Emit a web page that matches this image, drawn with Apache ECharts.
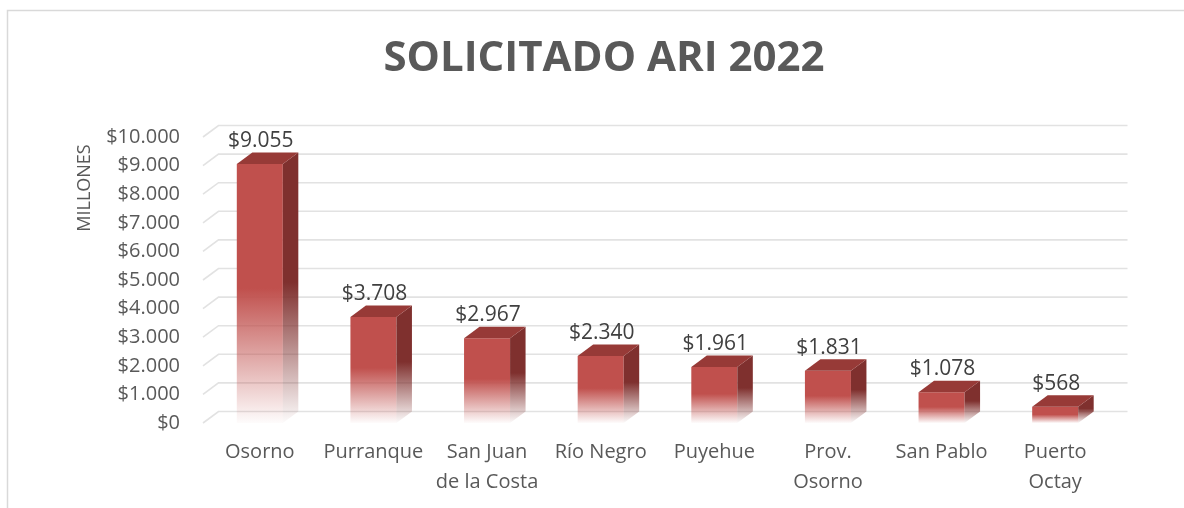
<!DOCTYPE html>
<html>
<head>
<meta charset="utf-8">
<script src="https://cdn.jsdelivr.net/npm/echarts@6/dist/echarts.min.js"></script>
<style>
	html, body { margin: 0; padding: 0; background: #fff; }
	#chart { width: 1184px; height: 508px; }
</style>
</head>
<body>
<div id="chart"></div>
<script>
// datos del gráfico
var comunas = ['Osorno', 'Purranque', 'San Juan\nde la Costa', 'Río Negro', 'Puyehue', 'Prov.\nOsorno', 'San Pablo', 'Puerto\nOctay'];
var solicitado = [9055, 3708, 2967, 2340, 1961, 1831, 1078, 568];
var yTicks = [0, 1000, 2000, 3000, 4000, 5000, 6000, 7000, 8000, 9000, 10000];

var FONT = '"Open Sans", "DejaVu Sans", sans-serif';
var DX = 15.5, DY = -11.5;   // profundidad 3d

function miles(v)
{
	return '$' + String(v).replace(/\B(?=(\d{3})+(?!\d))/g, '.');
}

function fade(color, rgb)
{
	return new echarts.graphic.LinearGradient(0, 0, 0, 1, [
		{offset: 0, color: color},
		{offset: 0.48, color: color},
		{offset: 1, color: 'rgba(' + rgb + ',0.02)'}
	]);
}

// muro del fondo con las líneas de división
function renderWall(params, api)
{
	var cs = params.coordSys,
		y = api.coord([0, api.value(1)])[1];
	return {
		type: 'polyline',
		shape: {points: [[cs.x, y], [cs.x + DX, y + DY], [cs.x + cs.width + DX, y + DY]]},
		style: {stroke: '#e2e2e2', lineWidth: 1.6, fill: null},
		silent: true
	};
}

// barra 3d
function renderBar(params, api)
{
	var idx = api.value(0),
		val = api.value(1),
		top = api.coord([idx, val]),
		base = api.coord([idx, 0]),
		bw = api.size([1, 0])[0] * 0.405,
		x0 = top[0] - bw / 2,
		x1 = top[0] + bw / 2,
		yT = top[1],
		yB = base[1];

	return {
		type: 'group',
		children: [
			{
				type: 'rect',
				shape: {x: x0, y: yT, width: bw, height: yB - yT},
				style: {fill: fade('#c0504d', '192,80,77')}
			},
			{
				type: 'polygon',
				shape: {points: [[x1, yT], [x1 + DX, yT + DY], [x1 + DX, yB + DY], [x1, yB]]},
				style: {fill: fade('#7f302e', '127,48,46')}
			},
			{
				type: 'polygon',
				shape: {points: [[x0, yT], [x0 + DX, yT + DY], [x1 + DX, yT + DY], [x1, yT]]},
				style: {fill: '#973a37'}
			},
			{
				type: 'text',
				x: top[0] + 1,
				y: yT - 23,
				style: {
					text: miles(val),
					align: 'center',
					verticalAlign: 'middle',
					font: '21px ' + FONT,
					fill: '#404040'
				}
			}
		]
	};
}

var chart = echarts.init(document.getElementById('chart'));

chart.setOption({
	backgroundColor: '#fff',
	animation: false,
	title: {
		text: 'SOLICITADO ARI 2022',
		left: 599,
		textAlign: 'center',
		top: 33,
		textStyle: {fontFamily: FONT, fontSize: 42, fontWeight: 'bold', color: '#595959'}
	},
	grid: {left: 203, right: 72, top: 137, bottom: 85},
	xAxis: {
		type: 'category',
		data: comunas,
		axisLine: {show: false},
		axisTick: {show: false},
		axisLabel: {fontFamily: FONT, fontSize: 20, color: '#595959', lineHeight: 30, margin: 14, interval: 0}
	},
	yAxis: {
		type: 'value',
		min: 0,
		max: 10000,
		interval: 1000,
		splitLine: {show: false},
		axisLine: {show: false},
		axisTick: {show: false},
		axisLabel: {fontFamily: FONT, fontSize: 20, color: '#595959', margin: 23, padding: [6, 0, 0, 0], formatter: miles}
	},
	graphic: [
		{
			type: 'rect',
			shape: {x: 7.5, y: 10.5, width: 1300, height: 700},
			style: {fill: null, stroke: '#d9d9d9', lineWidth: 1.5},
			silent: true
		},
		{
			type: 'text',
			x: 85,
			y: 188,
			rotation: Math.PI / 2,
			style: {text: 'MILLONES', font: '18px ' + FONT, fill: '#595959', align: 'center', verticalAlign: 'middle'}
		}
	],
	series: [
		{
			type: 'custom',
			renderItem: renderWall,
			data: yTicks.map(function (t) { return [0, t]; }),
			clip: false,
			z: 1
		},
		{
			type: 'custom',
			renderItem: renderBar,
			data: solicitado.map(function (v, i) { return [i, v]; }),
			clip: false,
			z: 2
		}
	]
});
</script>
</body>
</html>
